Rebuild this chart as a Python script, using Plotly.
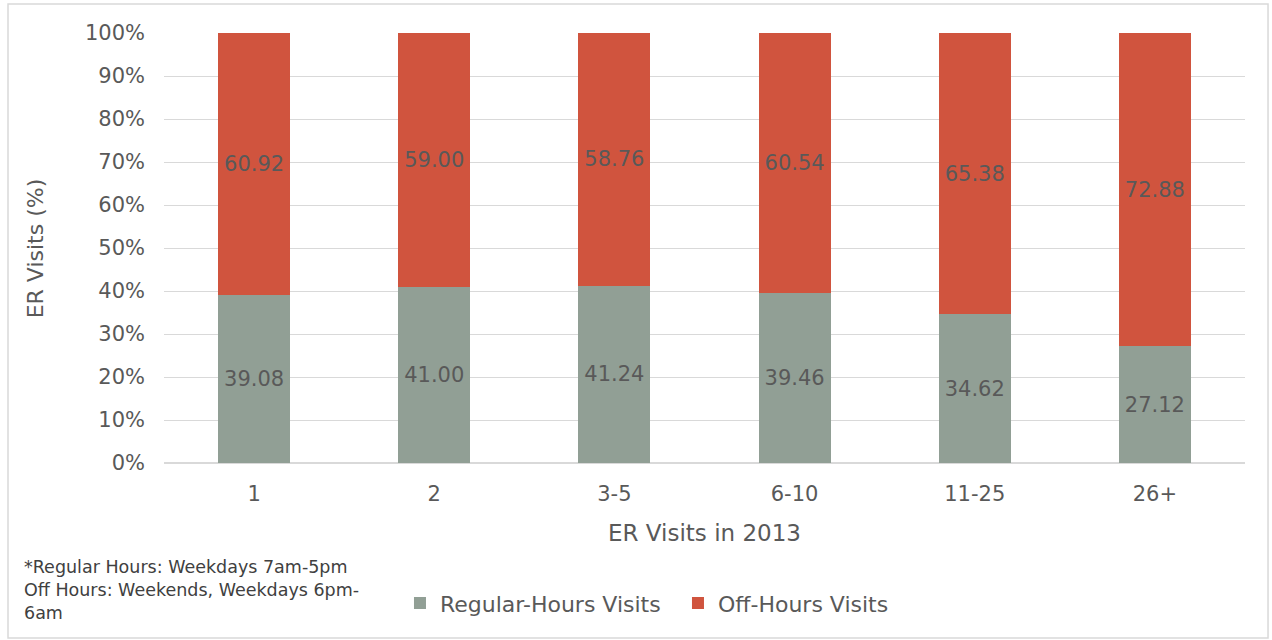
import plotly.graph_objects as go

categories = ["1", "2", "3-5", "6-10", "11-25", "26+"]
regular = [39.08, 41.00, 41.24, 39.46, 34.62, 27.12]
off_hours = [60.92, 59.00, 58.76, 60.54, 65.38, 72.88]

FONT = "DejaVu Sans"
TXT = "#595959"

fig = go.Figure()
fig.add_trace(go.Bar(
    x=categories, y=regular, name="Regular-Hours Visits",
    marker=dict(color="#919F95", line=dict(width=0)),
    texttemplate="%{y:.2f}", textposition="inside", insidetextanchor="middle",
    textfont=dict(family=FONT, size=21, color=TXT), textangle=0,
))
fig.add_trace(go.Bar(
    x=categories, y=off_hours, name="Off-Hours Visits",
    marker=dict(color="#D0543E", line=dict(width=0)),
    texttemplate="%{y:.2f}", textposition="inside", insidetextanchor="middle",
    textfont=dict(family=FONT, size=21, color=TXT), textangle=0,
))

fig.update_layout(
    width=1272, height=640,
    barmode="stack", bargap=0.6,
    paper_bgcolor="white", plot_bgcolor="white",
    margin=dict(l=164, r=27, t=33, b=177),
    font=dict(family=FONT, color=TXT),
    showlegend=True,
    legend=dict(orientation="h", x=0.2183, xanchor="left", y=-0.326, yanchor="middle",
                font=dict(family=FONT, size=22, color=TXT),
                entrywidth=233, entrywidthmode="pixels",
                traceorder="normal"),
    xaxis=dict(showgrid=False, showline=True, linecolor="#D9D9D9", linewidth=1,
               ticks="", ticklabelstandoff=12,
               tickfont=dict(family=FONT, size=21, color=TXT)),
    yaxis=dict(range=[0, 100], tick0=0, dtick=10, ticksuffix="%",
               showgrid=True, gridcolor="#D9D9D9", gridwidth=1,
               zeroline=True, zerolinecolor="#D9D9D9",
               ticks="", ticklabelstandoff=18,
               tickfont=dict(family=FONT, size=21, color=TXT)),
    annotations=[
        dict(text="ER Visits (%)", xref="paper", yref="paper", x=-0.119, y=0.5,
             xanchor="center", yanchor="middle",
             textangle=-90, showarrow=False, font=dict(family=FONT, size=22, color=TXT)),
        dict(text="ER Visits in 2013", xref="paper", yref="paper", x=0.5, y=-0.163,
             xanchor="center", yanchor="middle",
             showarrow=False, font=dict(family=FONT, size=23, color=TXT)),
        dict(text="*Regular Hours: Weekdays 7am-5pm<br>Off Hours: Weekends, Weekdays 6pm-<br>6am",
             xref="paper", yref="paper", x=-0.131, y=-0.295, xanchor="left", yanchor="middle",
             align="left", showarrow=False, font=dict(family=FONT, size=17.5, color="#404040")),
    ],
    shapes=[dict(type="rect", xref="paper", yref="paper",
                 x0=-0.1443, x1=1.0213, y0=-0.407, y1=1.0674,
                 line=dict(color="#D9D9D9", width=1.5), fillcolor="rgba(0,0,0,0)")],
)

fig.write_html("out.html", config={"displayModeBar": False},
               post_script="document.body.style.margin='0';")
